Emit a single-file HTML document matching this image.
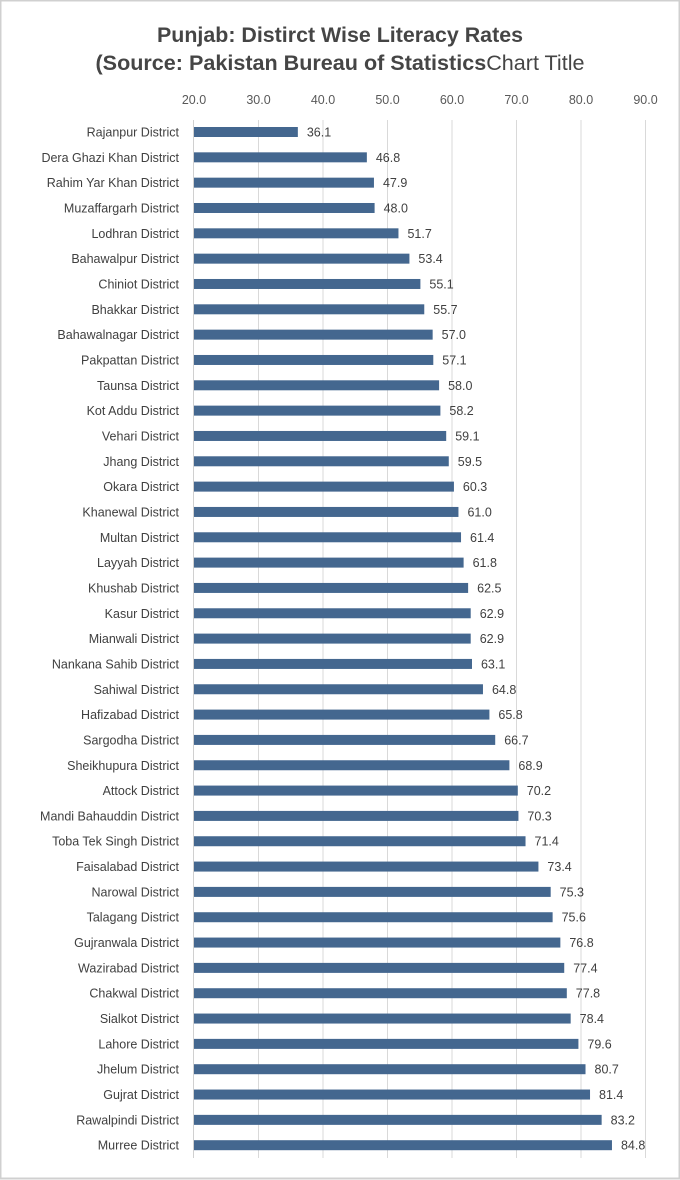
<!DOCTYPE html>
<html><head><meta charset="utf-8"><style>
html,body{margin:0;padding:0;background:#fff;}
svg{display:block;font-family:"Liberation Sans",sans-serif;}
</style></head><body>
<svg width="680" height="1180" viewBox="0 0 680 1180" xmlns="http://www.w3.org/2000/svg">
<rect x="0.5" y="0.5" width="679" height="1178" fill="#fff" stroke="#d0d0d0" stroke-width="2"/>
<text x="340" y="42" text-anchor="middle" font-size="21" font-weight="bold" fill="#454545" textLength="366" lengthAdjust="spacingAndGlyphs">Punjab: Distirct Wise Literacy Rates</text>
<text x="340" y="70" text-anchor="middle" font-size="21" fill="#454545" textLength="489" lengthAdjust="spacingAndGlyphs"><tspan font-weight="bold">(Source: Pakistan Bureau of Statistics</tspan>Chart Title</text>
<g id="grid" stroke="#d9d9d9" stroke-width="1"></g>
<g id="ticks" font-size="12.5" fill="#595959" text-anchor="middle"></g>
<g id="bars"></g>
<line x1="193.5" y1="120" x2="193.5" y2="1158" stroke="#d0d0d0"/>
</svg>
<script>
const d=[["Rajanpur District",36.1],["Dera Ghazi Khan District",46.8],["Rahim Yar Khan District",47.9],["Muzaffargarh District",48.0],["Lodhran District",51.7],["Bahawalpur District",53.4],["Chiniot District",55.1],["Bhakkar District",55.7],["Bahawalnagar District",57.0],["Pakpattan District",57.1],["Taunsa District",58.0],["Kot Addu District",58.2],["Vehari District",59.1],["Jhang District",59.5],["Okara District",60.3],["Khanewal District",61.0],["Multan District",61.4],["Layyah District",61.8],["Khushab District",62.5],["Kasur District",62.9],["Mianwali District",62.9],["Nankana Sahib District",63.1],["Sahiwal District",64.8],["Hafizabad District",65.8],["Sargodha District",66.7],["Sheikhupura District",68.9],["Attock District",70.2],["Mandi Bahauddin District",70.3],["Toba Tek Singh District",71.4],["Faisalabad District",73.4],["Narowal District",75.3],["Talagang District",75.6],["Gujranwala District",76.8],["Wazirabad District",77.4],["Chakwal District",77.8],["Sialkot District",78.4],["Lahore District",79.6],["Jhelum District",80.7],["Gujrat District",81.4],["Rawalpindi District",83.2],["Murree District",84.8]];
const NS="http://www.w3.org/2000/svg";
const X=v=>194+(v-20)*6.45;
const g=document.getElementById('grid'),t=document.getElementById('ticks'),b=document.getElementById('bars');
for(let v=20;v<=90;v+=10){const x=X(v);
 if(v>20){const l=document.createElementNS(NS,'line');l.setAttribute('x1',x);l.setAttribute('x2',x);l.setAttribute('y1',120);l.setAttribute('y2',1158);g.appendChild(l);}
 const tx=document.createElementNS(NS,'text');tx.setAttribute('x',x);tx.setAttribute('y',104);tx.textContent=v.toFixed(1);t.appendChild(tx);}
d.forEach((r,i)=>{const y=132+i*25.33;
 const rc=document.createElementNS(NS,'rect');rc.setAttribute('x',194);rc.setAttribute('y',y-5);rc.setAttribute('width',X(r[1])-194);rc.setAttribute('height',10);rc.setAttribute('fill','#44678f');b.appendChild(rc);
 const lb=document.createElementNS(NS,'text');lb.setAttribute('x',179);lb.setAttribute('y',y+4.5);lb.setAttribute('text-anchor','end');lb.setAttribute('font-size','12.5');lb.setAttribute('fill','#404040');lb.textContent=r[0];b.appendChild(lb);
 const vl=document.createElementNS(NS,'text');vl.setAttribute('x',X(r[1])+9);vl.setAttribute('y',y+4.5);vl.setAttribute('font-size','12.5');vl.setAttribute('fill','#404040');vl.textContent=r[1].toFixed(1);b.appendChild(vl);});
</script>
</body></html>
